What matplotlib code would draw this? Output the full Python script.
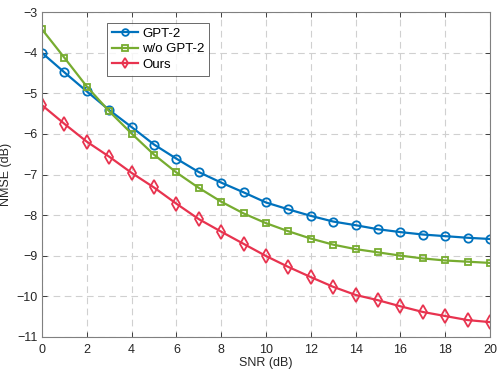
import matplotlib
matplotlib.use('Agg')
import matplotlib.pyplot as plt

plt.rcParams['font.family'] = ['Liberation Sans', 'DejaVu Sans']

snr = list(range(0, 21))
gpt2 = [-4.0, -4.48, -4.95, -5.41, -5.83, -6.26, -6.61, -6.94, -7.2, -7.44, -7.69,
        -7.86, -8.02, -8.16, -8.25, -8.35, -8.42, -8.48, -8.52, -8.56, -8.59]
wo_gpt2 = [-3.42, -4.12, -4.83, -5.44, -5.99, -6.51, -6.95, -7.33, -7.67, -7.96, -8.2,
           -8.4, -8.58, -8.73, -8.84, -8.92, -9.0, -9.07, -9.12, -9.15, -9.18]
ours = [-5.29, -5.75, -6.19, -6.56, -6.96, -7.32, -7.72, -8.1, -8.41, -8.71, -9.01,
        -9.28, -9.53, -9.77, -9.97, -10.1, -10.25, -10.39, -10.49, -10.59, -10.64]

fig = plt.figure(figsize=(4.98, 3.74), dpi=100)
ax = fig.add_axes([0.0843, 0.0997, 0.8997, 0.8674])

ax.plot(snr, gpt2, color='#0072BD', marker='o', markersize=6, markerfacecolor='none',
        markeredgewidth=1.3, linewidth=1.6, label='GPT-2')
ax.plot(snr, wo_gpt2, color='#77AC30', marker='s', markersize=5, markerfacecolor='none',
        markeredgewidth=1.3, linewidth=1.6, label='w/o GPT-2')
ax.plot(snr, ours, color='#E8334F', marker='d', markersize=7, markerfacecolor='none',
        markeredgewidth=1.3, linewidth=1.6, label='Ours')

ax.set_xlim(0, 20)
ax.set_ylim(-11, -3)
ax.set_xticks(range(0, 21, 2))
ax.set_yticks(range(-11, -2))
ax.set_xlabel('SNR (dB)', fontsize=9, color='#262626', labelpad=1)
ax.set_ylabel('NMSE (dB)', fontsize=9, color='#262626', labelpad=3)
ax.tick_params(direction='in', length=3.5, width=0.6, labelsize=9, colors='#262626',
               top=True, right=True, pad=3)
ax.tick_params(axis='x', pad=5)
for s in ax.spines.values():
    s.set_color('#808080')
    s.set_linewidth(0.8)
ax.grid(True, linestyle=(0, (6, 4)), color='#d0d0d0', linewidth=0.8)

leg = ax.legend(loc='upper left', bbox_to_anchor=(0.145, 0.967), borderaxespad=0,
                fontsize=9.5, frameon=True, fancybox=False, edgecolor='#262626',
                handlelength=2.0, handletextpad=0.3, borderpad=0.35, labelspacing=0.25,
                markerscale=0.8)
leg.get_frame().set_linewidth(0.6)

fig.savefig('out.png', dpi=100)
